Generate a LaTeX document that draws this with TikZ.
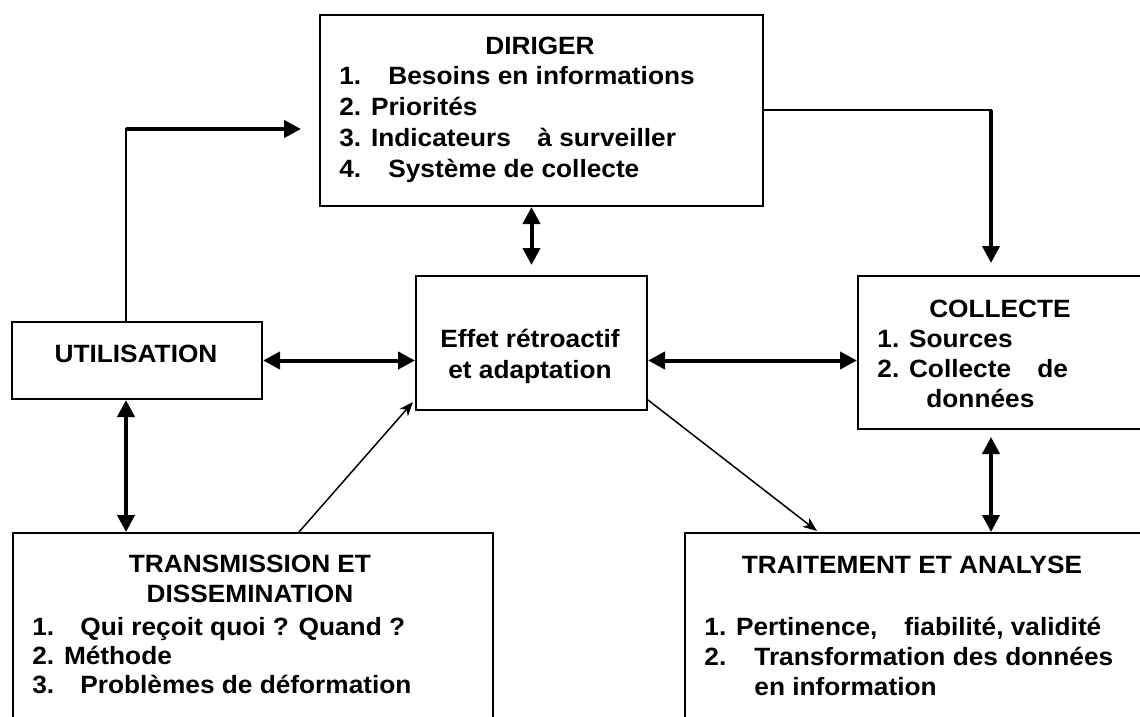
\documentclass[tikz,border=0pt]{standalone}
\usepackage{fontspec}
\setmainfont{Liberation Sans}[FakeStretch=1.05]
\usetikzlibrary{arrows.meta,calc}
\begin{document}
\begin{tikzpicture}[x=0.5pt,y=-0.5pt,
  box/.style={draw, line width=1pt, rectangle, inner sep=0pt, anchor=north west},
  lbl/.style={inner sep=0pt, font=\bfseries\fontsize{12.5}{15}\selectfont},
  ln/.style={lbl, anchor=base west},
  ctr/.style={lbl, anchor=base},
  bigarrow/.style={line width=2pt, -{Triangle[length=8.5pt,width=8.5pt]}},
  bigboth/.style={line width=2pt, {Triangle[length=8.5pt,width=8.5pt]}-{Triangle[length=8.5pt,width=8.5pt]}},
  thinarrow/.style={line width=0.75pt, -{Stealth[length=7pt,width=5.5pt,inset=2pt]}},
  thinline/.style={line width=1pt}]
\useasboundingbox (0,0) rectangle (1140,717);
\fill[white] (0,0) rectangle (1140,717);
\clip (0,0) rectangle (1140,717);

% boxes
\node[box, minimum width=221.5pt, minimum height=95.5pt] (dir) at (319,14) {};
\node[box, minimum width=125pt, minimum height=38.5pt] (util) at (11,321) {};
\node[box, minimum width=115.5pt, minimum height=67pt] (eff) at (415,275) {};
\node[box, minimum width=160pt, minimum height=76.5pt] (col) at (857,275) {};
\node[box, minimum width=240pt, minimum height=110pt] (trans) at (12,532) {};
\node[box, minimum width=240pt, minimum height=110pt] (trait) at (684,532) {};

% texts
\node[ctr] (t-dir) at (540,55) {DIRIGER};
\node[ln] (t-dir1) at (339,85) {\makebox[24.5pt][l]{1.}Besoins en informations};
\node[ln] (t-dir2) at (339,116) {2. Priorités};
\node[ln] (t-dir3) at (339,147) {\makebox[99pt][l]{3. Indicateurs}à surveiller};
\node[ln] (t-dir4) at (339,177) {\makebox[24.5pt][l]{4.}Système de collecte};

\node[ctr] (t-util) at (136,362) {UTILISATION};
\node[ctr] (t-eff1) at (530,347) {Effet rétroactif};
\node[ctr] (t-eff2) at (530,378) {et adaptation};

\node[ctr] (t-col) at (1000,317) {COLLECTE};
\node[ln] (t-col1) at (877,347) {1. Sources};
\node[ln] (t-col2) at (877,377) {\makebox[80pt][l]{2. Collecte}de};
\node[ln] (t-col3) at (926,407) {données};

\node[ctr] (t-tr1) at (250,572) {TRANSMISSION ET};
\node[ctr] (t-tr2) at (250,602) {DISSEMINATION};
\node[ln] (t-tr3) at (32,635) {\makebox[24pt][l]{1.}Qui reçoit quoi ? Quand ?};
\node[ln] (t-tr4) at (32,664) {2. Méthode};
\node[ln] (t-tr5) at (32,693) {\makebox[24pt][l]{3.}Problèmes de déformation};

\node[ctr] (t-ta1) at (912,573) {TRAITEMENT ET ANALYSE};
\node[ln] (t-ta2) at (704,635) {\makebox[100pt][l]{1. Pertinence,}fiabilité, validité};
\node[ln] (t-ta3) at (704,665) {\makebox[25pt][l]{2.}Transformation des données};
\node[ln] (t-ta4) at (754,695) {en information};

% connectors
\coordinate (c1) at (126,129);
\coordinate (c2) at (991,110);
\draw[thinline] (util.north -| c1) -- ($(c1)+(0,-1)$);
\draw[bigarrow] (c1) -- ($(dir.west |- c1)+(-18,0)$);
\draw[thinline] (dir.east |- c2) -- ($(c2)+(1,0)$);
\draw[bigarrow] (c2) -- ($(c2 |- col.north)+(0,-12)$);
\draw[bigboth] (eff.north |- dir.south) -- ($(eff.north)+(0,-10)$);
\draw[bigboth] (util.east) -- (util.east -| eff.west);
\draw[bigboth] (util.east -| eff.east) -- (util.east -| col.west);
\draw[bigboth] (util.south -| c1) -- (trans.north -| c1);
\draw[bigboth] ($(c2 |- col.south)+(0,7)$) -- (c2 |- trait.north);
\draw[thinarrow] ($(trans.north west)+(287,0)$) -- ($(eff.south west)+(-2,-9)$);
\draw[thinarrow] ($(eff.south east)+(0,-11)$) -- ($(trait.north west)+(133,-1)$);
\end{tikzpicture}
\end{document}
